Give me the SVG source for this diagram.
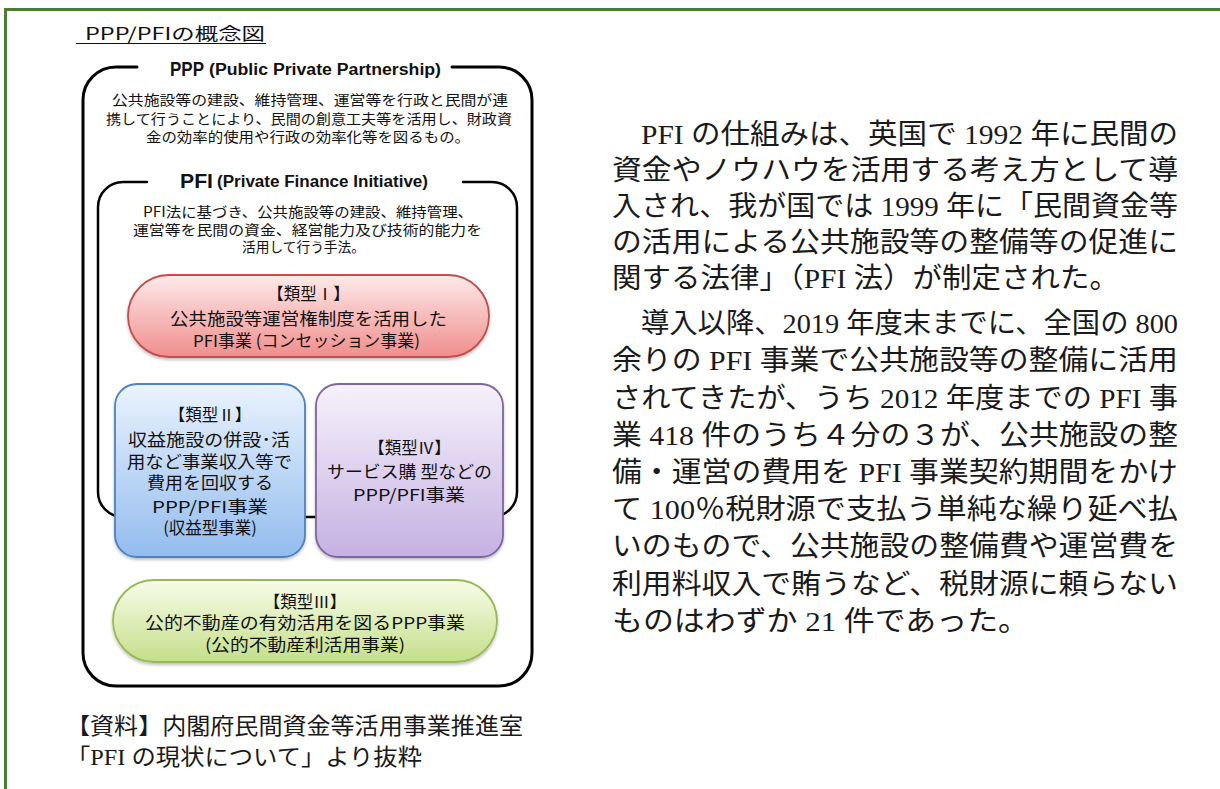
<svg xmlns="http://www.w3.org/2000/svg" width="1220" height="789" viewBox="0 0 1220 789">
<style>
.g{font-family:"Noto Sans CJK JP","Liberation Sans",sans-serif;fill:#111}
.m{font-family:"Liberation Serif","Noto Sans CJK JP",serif;fill:#1a1a1a}
.lat{font-family:"Liberation Sans","Noto Sans CJK JP",sans-serif;font-weight:bold;fill:#111}
.frame{fill:none;stroke:#000;stroke-linecap:round}
.body{font-size:28px}
.cap{font-size:22.5px}
.desc{font-size:14px}
.lab{font-size:16.5px}
</style>
<defs>
<linearGradient id="gr1" x1="0" y1="0" x2="0" y2="1"><stop offset="0" stop-color="#fdeaea"/><stop offset="1" stop-color="#f08e8c"/></linearGradient>
<linearGradient id="gr2" x1="0" y1="0" x2="0" y2="1"><stop offset="0" stop-color="#eaf3fd"/><stop offset="1" stop-color="#93bcef"/></linearGradient>
<linearGradient id="gr4" x1="0" y1="0" x2="0" y2="1"><stop offset="0" stop-color="#f6f2fb"/><stop offset="1" stop-color="#c5b1e2"/></linearGradient>
<linearGradient id="gr3" x1="0" y1="0" x2="0" y2="1"><stop offset="0" stop-color="#f8fce9"/><stop offset="1" stop-color="#c4df8a"/></linearGradient>
<filter id="sh" x="-10%" y="-10%" width="120%" height="130%"><feDropShadow dx="0" dy="2" stdDeviation="1.5" flood-color="#000" flood-opacity="0.25"/></filter>
</defs>
<rect x="5.5" y="9.5" width="1300" height="900" fill="none" stroke="#4a7d33" stroke-width="3"/>

<g id="title">
<text class="g" x="85" y="39.5" font-size="17" textLength="180" lengthAdjust="spacingAndGlyphs">PPP/PFIの概念図</text>
<line x1="76" y1="43.5" x2="266" y2="43.5" stroke="#111" stroke-width="1.2"/>
</g>

<g id="ppp">
<path class="frame" stroke-width="3" d="M137,67 H116 A33,33 0 0 0 83,100 V653 A33,33 0 0 0 116,686 H499 A33,33 0 0 0 532,653 V100 A33,33 0 0 0 499,67 H452"/>
<text class="lat" x="170" y="75.5" font-size="21" textLength="34" lengthAdjust="spacingAndGlyphs">PPP</text>
<text class="lat" x="209" y="74.5" font-size="16" textLength="232" lengthAdjust="spacingAndGlyphs">(Public Private Partnership)</text>
<text class="g desc" x="112" y="105.3" textLength="396" lengthAdjust="spacingAndGlyphs">公共施設等の建設、維持管理、運営等を行政と民間が連</text>
<text class="g desc" x="106" y="124.3" textLength="406" lengthAdjust="spacingAndGlyphs">携して行うことにより、民間の創意工夫等を活用し、財政資</text>
<text class="g desc" x="146" y="142.3" textLength="324" lengthAdjust="spacingAndGlyphs">金の効率的使用や行政の効率化等を図るもの。</text>
</g>

<g id="pfi">
<path class="frame" stroke-width="2.5" d="M147,182 H123 A25,25 0 0 0 98,207 V492 A25,25 0 0 0 123,517 H492 A25,25 0 0 0 517,492 V207 A25,25 0 0 0 492,182 H463"/>
<text class="lat" x="180" y="188" font-size="20" textLength="33" lengthAdjust="spacingAndGlyphs">PFI</text>
<text class="lat" x="217" y="187" font-size="16" textLength="211" lengthAdjust="spacingAndGlyphs">(Private Finance Initiative)</text>
<text class="g desc" x="143" y="217.3" textLength="330" lengthAdjust="spacingAndGlyphs">PFI法に基づき、公共施設等の建設、維持管理、</text>
<text class="g desc" x="133" y="235.3" textLength="349" lengthAdjust="spacingAndGlyphs">運営等を民間の資金、経営能力及び技術的能力を</text>
<text class="g desc" x="242" y="252.3" textLength="123" lengthAdjust="spacingAndGlyphs">活用して行う手法。</text>
</g>

<g id="type1">
<rect x="128" y="275" width="361" height="82" rx="41" fill="url(#gr1)" stroke="#c0504d" stroke-width="1.8" filter="url(#sh)"/>
<text class="g lab" x="308.5" y="299.5" text-anchor="middle">【類型Ⅰ】</text>
<text class="g lab" x="170" y="324.5" textLength="277" lengthAdjust="spacingAndGlyphs">公共施設等運営権制度を活用した</text>
<text class="g lab" x="193" y="347" textLength="227" lengthAdjust="spacingAndGlyphs">PFI事業 (コンセッション事業)</text>
</g>

<g id="type2">
<rect x="115" y="384" width="190" height="173" rx="22" fill="url(#gr2)" stroke="#4f81bd" stroke-width="1.8" filter="url(#sh)"/>
<text class="g lab" x="210" y="421.3" text-anchor="middle">【類型Ⅱ】</text>
<text class="g lab" x="128" y="446.3" textLength="162" lengthAdjust="spacingAndGlyphs">収益施設の併設･活</text>
<text class="g lab" x="127" y="468.3" textLength="165" lengthAdjust="spacingAndGlyphs">用など事業収入等で</text>
<text class="g lab" x="147" y="489.3" textLength="126" lengthAdjust="spacingAndGlyphs">費用を回収する</text>
<text class="g lab" x="152" y="513.3" textLength="116" lengthAdjust="spacingAndGlyphs">PPP/PFI事業</text>
<text class="g lab" x="210" y="534.3" text-anchor="middle">(収益型事業)</text>
</g>

<g id="type4">
<rect x="316" y="384" width="187" height="173" rx="22" fill="url(#gr4)" stroke="#8064a2" stroke-width="1.8" filter="url(#sh)"/>
<text class="g lab" x="409.5" y="454.3" text-anchor="middle">【類型Ⅳ】</text>
<text class="g lab" x="327" y="478.3" textLength="165" lengthAdjust="spacingAndGlyphs">サービス購 型などの</text>
<text class="g lab" x="353" y="501.3" textLength="112" lengthAdjust="spacingAndGlyphs">PPP/PFI事業</text>
</g>

<g id="type3">
<rect x="113" y="580" width="384" height="82" rx="41" fill="url(#gr3)" stroke="#98b954" stroke-width="1.8" filter="url(#sh)"/>
<text class="g lab" x="305" y="608.3" text-anchor="middle">【類型Ⅲ】</text>
<text class="g lab" x="145" y="629.3" textLength="320" lengthAdjust="spacingAndGlyphs">公的不動産の有効活用を図るPPP事業</text>
<text class="g lab" x="205" y="651.3" textLength="200" lengthAdjust="spacingAndGlyphs">(公的不動産利活用事業)</text>
</g>

<g id="caption">
<text class="m cap" x="66" y="733.5" textLength="457" lengthAdjust="spacingAndGlyphs">【資料】内閣府民間資金等活用事業推進室</text>
<text class="m cap" x="66" y="765" textLength="356" lengthAdjust="spacingAndGlyphs">「PFI の現状について」より抜粋</text>
</g>

<g id="bodytext">
<text class="m body" x="641" y="144" textLength="537" lengthAdjust="spacingAndGlyphs">PFI の仕組みは、英国で 1992 年に民間の</text>
<text class="m body" x="612" y="180" textLength="566" lengthAdjust="spacingAndGlyphs">資金やノウハウを活用する考え方として導</text>
<text class="m body" x="612" y="216" textLength="566" lengthAdjust="spacingAndGlyphs">入され、我が国では 1999 年に「民間資金等</text>
<text class="m body" x="612" y="252" textLength="566" lengthAdjust="spacingAndGlyphs">の活用による公共施設等の整備等の促進に</text>
<text class="m body" x="612" y="288" textLength="507" lengthAdjust="spacingAndGlyphs">関する法律」（PFI 法）が制定された。</text>
<text class="m body" x="641" y="333" textLength="537" lengthAdjust="spacingAndGlyphs">導入以降、2019 年度末までに、全国の 800</text>
<text class="m body" x="612" y="370" textLength="566" lengthAdjust="spacingAndGlyphs">余りの PFI 事業で公共施設等の整備に活用</text>
<text class="m body" x="612" y="407.5" textLength="566" lengthAdjust="spacingAndGlyphs">されてきたが、うち 2012 年度までの PFI 事</text>
<text class="m body" x="612" y="444.5" textLength="566" lengthAdjust="spacingAndGlyphs">業 418 件のうち４分の３が、公共施設の整</text>
<text class="m body" x="612" y="482" textLength="566" lengthAdjust="spacingAndGlyphs">備・運営の費用を PFI 事業契約期間をかけ</text>
<text class="m body" x="612" y="519" textLength="566" lengthAdjust="spacingAndGlyphs">て 100％税財源で支払う単純な繰り延べ払</text>
<text class="m body" x="612" y="556" textLength="566" lengthAdjust="spacingAndGlyphs">いのもので、公共施設の整備費や運営費を</text>
<text class="m body" x="612" y="593.5" textLength="566" lengthAdjust="spacingAndGlyphs">利用料収入で賄うなど、税財源に頼らない</text>
<text class="m body" x="612" y="631" textLength="417" lengthAdjust="spacingAndGlyphs">ものはわずか 21 件であった。</text>
</g>
</svg>
